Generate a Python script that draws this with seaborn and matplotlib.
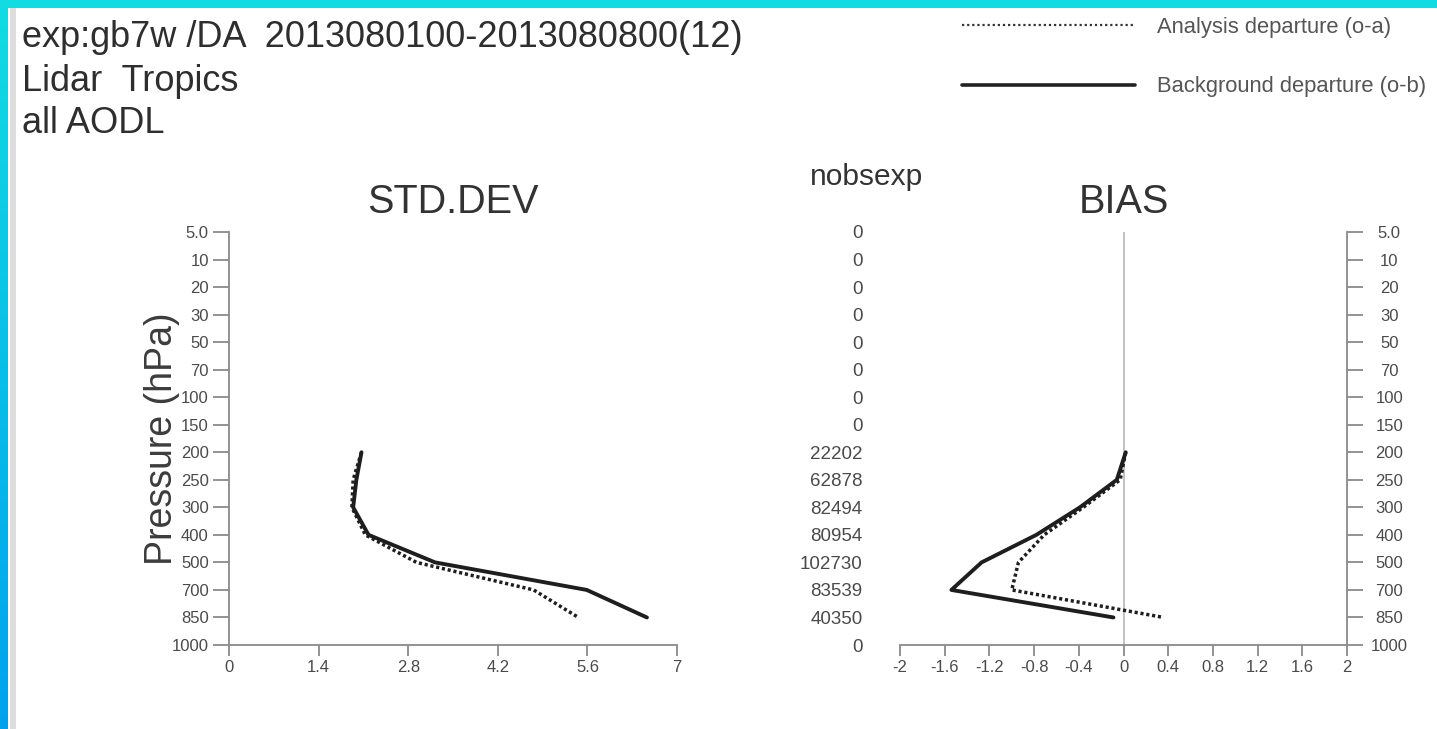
import numpy as np
import pandas as pd
import matplotlib
matplotlib.use("Agg")
import matplotlib.pyplot as plt
from matplotlib.lines import Line2D
from matplotlib.patches import Rectangle
from matplotlib.colors import LinearSegmentedColormap
import seaborn as sns

# Pressure levels (hPa) drawn as evenly spaced categories, top to bottom
levels = ["5.0", "10", "20", "30", "50", "70", "100", "150", "200", "250",
          "300", "400", "500", "700", "850", "1000"]
# Number of observations per level
nobs = [0, 0, 0, 0, 0, 0, 0, 0, 22202, 62878, 82494, 80954, 102730, 83539, 40350, 0]

# Levels with statistics
stat_levels = ["200", "250", "300", "400", "500", "700", "850"]
std_an = [2.07, 1.94, 1.92, 2.13, 2.93, 4.76, 5.46]     # o-a
std_fg = [2.07, 1.99, 1.94, 2.18, 3.22, 5.59, 6.53]     # o-b
bias_an = [0.02, -0.03, -0.36, -0.71, -0.94, -1.00, 0.36]
bias_fg = [0.02, -0.06, -0.39, -0.78, -1.27, -1.54, -0.09]

std_ticks = [0, 1.4, 2.8, 4.2, 5.6, 7]
std_ticklabels = ["0", "1.4", "2.8", "4.2", "5.6", "7"]
bias_ticks = [-2, -1.6, -1.2, -0.8, -0.4, 0, 0.4, 0.8, 1.2, 1.6, 2]
bias_ticklabels = ["-2", "-1.6", "-1.2", "-0.8", "-0.4", "0", "0.4", "0.8", "1.2", "1.6", "2"]

header = ["exp:gb7w /DA  2013080100-2013080800(12)", "Lidar  Tropics", "all AODL"]
legend_labels = ["Analysis departure (o-a)", "Background departure (o-b)"]

sns.set_theme(style="white")
plt.rcParams["font.family"] = ["Liberation Sans", "DejaVu Sans"]

W, H = 1437, 729
fig = plt.figure(figsize=(W / 100, H / 100), dpi=100)
fig.patch.set_facecolor("white")


def fx(px):
    return px / W


def fy(py):
    return 1 - py / H


pos = {lv: i for i, lv in enumerate(levels)}
ypos = [pos[lv] for lv in stat_levels]

df = pd.DataFrame({
    "level": ypos * 2,
    "std": std_an + std_fg,
    "bias": bias_an + bias_fg,
    "kind": ["o-a"] * len(ypos) + ["o-b"] * len(ypos),
})

SPINE = "#8a8a8a"
TICKTXT = "#4a4a4a"
DOT = (0, (0.9, 0.8))

ax_l = fig.add_axes([fx(229), fy(645), fx(448), (645 - 232) / H])
ax_r = fig.add_axes([fx(900), fy(645), fx(447), (645 - 232) / H])

for ax, col in ((ax_l, "std"), (ax_r, "bias")):
    sub_a = df[df.kind == "o-a"]
    sub_b = df[df.kind == "o-b"]
    sns.lineplot(data=sub_a, x=col, y="level", orient="y", sort=False, estimator=None,
                 ax=ax, color="#1e1e1e", lw=2.5, linestyle=DOT)
    sns.lineplot(data=sub_b, x=col, y="level", orient="y", sort=False, estimator=None,
                 ax=ax, color="#1e1e1e", lw=2.8)
    ax.set_ylim(len(levels) - 1, 0)
    ax.set_yticks(range(len(levels)))
    ax.set_xlabel("")
    ax.set_ylabel("")
    for s in ("top", "right"):
        ax.spines[s].set_visible(False)
    for s in ("left", "bottom"):
        ax.spines[s].set_color(SPINE)
        ax.spines[s].set_linewidth(1.3)
    ax.tick_params(axis="x", direction="out", length=8, width=1.3, color=SPINE,
                   labelsize=12, labelcolor=TICKTXT, pad=3, bottom=True)
    ax.tick_params(axis="y", direction="out", length=11.5, width=1.3, color=SPINE,
                   labelsize=12, labelcolor=TICKTXT, pad=3, left=True)
    ax.set_facecolor("none")

# STD.DEV panel
ax_l.set_xlim(0, 7)
ax_l.set_xticks(std_ticks, std_ticklabels)
ax_l.set_yticklabels(levels)
ax_l.set_title("STD.DEV", fontsize=28.5, color="#333333", pad=13.5)
ax_l.set_ylabel("Pressure (hPa)", fontsize=27, color="#3c3c3c")
ax_l.yaxis.set_label_coords(-0.11, 0.5)

# BIAS panel
ax_r.set_xlim(-2, 2)
ax_r.set_xticks(bias_ticks, bias_ticklabels)
ax_r.axvline(0, color="#b8b8b8", lw=1.2, zorder=0)
ax_r.spines["left"].set_visible(False)
ax_r.set_yticklabels([str(n) for n in nobs])
ax_r.tick_params(axis="y", length=0, pad=27, labelsize=13.5)
ax_r.set_title("BIAS", fontsize=28.5, color="#333333", pad=13.5)

sec = ax_r.secondary_yaxis("right")
sec.set_yticks(range(len(levels)), levels)
sec.spines["right"].set_color(SPINE)
sec.spines["right"].set_linewidth(1.3)
sec.tick_params(axis="y", direction="out", length=11.5, width=1.3, color=SPINE,
                labelsize=12, labelcolor=TICKTXT, pad=19)
for t in sec.get_yticklabels():
    t.set_horizontalalignment("center")

fig.text(fx(867), fy(185), "nobsexp", fontsize=21.5, color="#333333",
         ha="center", va="baseline")

# Header lines
for txt, by in zip(header, (47, 91, 133)):
    fig.text(fx(22), fy(by), txt, fontsize=26, color="#2e2e2e", ha="left", va="baseline")

# Legend
fig.add_artist(Line2D([fx(962), fx(1135)], [fy(25), fy(25)], color="#333333",
                      lw=1.6, linestyle=(0, (1.0, 1.3))))
fig.add_artist(Line2D([fx(962), fx(1135)], [fy(85), fy(85)], color="#222222", lw=2.6))
for txt, by in zip(legend_labels, (33, 92)):
    fig.text(fx(1157), fy(by), txt, fontsize=15.8, color="#555555", ha="left",
             va="baseline")

# Frame decoration
fig.add_artist(Rectangle((0, fy(8)), 1, 8 / H, transform=fig.transFigure,
                         color="#12dce2", lw=0, zorder=5))
fig.add_artist(Rectangle((fx(10), 0), fx(6), fy(8), transform=fig.transFigure,
                         color="#dddddd", lw=0, zorder=5))
grad_ax = fig.add_axes([0, 0, fx(7), 1])
grad = np.linspace(0, 1, 256).reshape(-1, 1)
grad_ax.imshow(grad, aspect="auto",
               cmap=LinearSegmentedColormap.from_list("edge", ["#12dce2", "#00a2ee"]),
               extent=[0, 1, 1, 0])
grad_ax.set_axis_off()

fig.savefig("out.png", dpi=100)
